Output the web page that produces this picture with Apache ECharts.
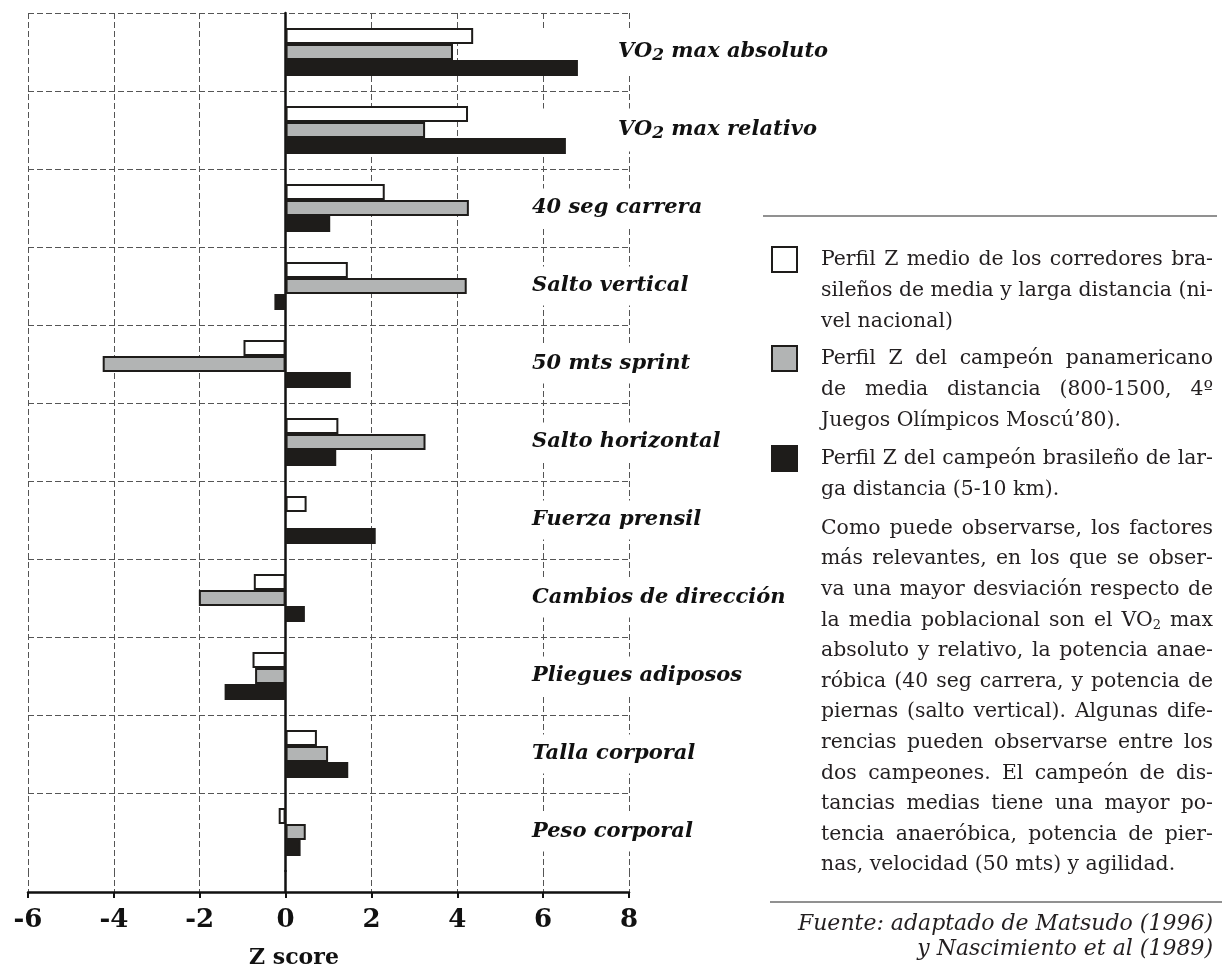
<!DOCTYPE html>
<html>
<head>
<meta charset="utf-8">
<script src="https://cdn.jsdelivr.net/npm/echarts@6/dist/echarts.min.js"></script>
<style>
  html, body { margin: 0; padding: 0; background: #fff; }
  #main { width: 1227px; height: 969px; }
</style>
</head>
<body>
<div id="main"></div>
<script>
// datos del gráfico, de arriba a abajo
var categories = ["VO2 max absoluto", "VO2 max relativo", "40 seg carrera", "Salto vertical",
  "50 mts sprint", "Salto horizontal", "Fuerza prensil", "Cambios de dirección",
  "Pliegues adiposos", "Talla corporal", "Peso corporal"];
var corredores = [4.37, 4.25, 2.31, 1.45, -0.98, 1.23, 0.49, -0.74, -0.77, 0.73, -0.16];
var panamericano = [3.9, 3.25, 4.27, 4.22, -4.26, 3.26, null, -2.02, -0.71, 0.99, 0.47];
var brasileno = [6.81, 6.53, 1.04, -0.26, 1.52, 1.18, 2.1, 0.45, -1.42, 1.46, 0.35];
var xTicks = [-6, -4, -2, 0, 2, 4, 6, 8];

// textos del panel derecho ("_2" = subíndice)
var leyenda1 = ["Perfil Z medio de los corredores bra-", "sileños de media y larga distancia (ni-", "vel nacional)"];
var leyenda2 = ["Perfil Z del campeón panamericano", "de media distancia (800-1500, 4º", "Juegos Olímpicos Moscú’80)."];
var leyenda3 = ["Perfil Z del campeón brasileño de lar-", "ga distancia (5-10 km)."];
var parrafo = [
  "Como puede observarse, los factores",
  "más relevantes, en los que se obser-",
  "va una mayor desviación respecto de",
  "la media poblacional son el VO_2 max",
  "absoluto y relativo, la potencia anae-",
  "róbica (40 seg carrera, y potencia de",
  "piernas (salto vertical). Algunas dife-",
  "rencias pueden observarse entre los",
  "dos campeones. El campeón de dis-",
  "tancias medias tiene una mayor po-",
  "tencia anaeróbica, potencia de pier-",
  "nas, velocidad (50 mts) y agilidad."
];
var fuente = "Fuente: adaptado de Matsudo (1996)\ny Nascimiento et al (1989)";

var colBlanco = "#ffffff", colGris = "#b2b4b4", colNegro = "#1e1c1a";
var serif = "DejaVu Serif";
var dash = { type: [6, 3], color: "#555", width: 1 };
var tamTexto = 20.4, tamSub = 13, colTexto = "#231f20";

var chart = echarts.init(document.getElementById("main"));

// el eje de categorías va de abajo a arriba: se invierten los arrays
function rev(a) { return a.slice().reverse(); }

function barSerie(name, data, color) {
  return {
    name: name,
    type: "bar",
    xAxisIndex: 0,
    yAxisIndex: 0,
    data: rev(data),
    barWidth: 16,
    barGap: "0%",
    itemStyle: { color: color, borderColor: colNegro, borderWidth: 2 }
  };
}

// medir texto para justificar las líneas
var ctx = document.createElement("canvas").getContext("2d");
function medir(txt, size) {
  ctx.font = size + "px '" + serif + "'";
  return ctx.measureText(txt).width;
}
function anchoPalabra(w) {
  if (w.indexOf("_2") >= 0) return medir(w.replace("_2", ""), tamTexto) + medir("2", tamSub);
  return medir(w, tamTexto);
}

// bloque de texto justificado, palabra a palabra
function bloque(lineas, x, y0, alto, ancho) {
  var els = [];
  lineas.forEach(function (linea, i) {
    var palabras = linea.split(" ");
    var anchos = palabras.map(anchoPalabra);
    var total = anchos.reduce(function (a, b) { return a + b; }, 0);
    var ultima = i === lineas.length - 1;
    var hueco = (ultima || palabras.length < 2) ? medir(" ", tamTexto) : (ancho - total) / (palabras.length - 1);
    var cx = x;
    palabras.forEach(function (p, j) {
      els.push({
        type: "text", x: cx, y: y0 + i * alto,
        style: {
          text: p.replace("_2", "{s|2}"),
          fontFamily: serif, fontSize: tamTexto, fill: colTexto, verticalAlign: "middle",
          rich: { s: { fontFamily: serif, fontSize: tamSub, fill: colTexto, verticalAlign: "bottom", padding: [10, 0, 0, 0] } }
        }
      });
      cx += anchos[j] + hueco;
    });
  });
  return els;
}

var graficos = [
  { type: "line", shape: { x1: 763, y1: 216, x2: 1217, y2: 216 }, style: { stroke: "#6d6d6d", lineWidth: 1.5 } },
  { type: "rect", shape: { x: 772, y: 247, width: 25, height: 25 }, style: { fill: colBlanco, stroke: colNegro, lineWidth: 2 } },
  { type: "rect", shape: { x: 772, y: 346, width: 25, height: 25 }, style: { fill: colGris, stroke: colNegro, lineWidth: 2 } },
  { type: "rect", shape: { x: 772, y: 446, width: 25, height: 25 }, style: { fill: colNegro, stroke: colNegro, lineWidth: 2 } },
  { type: "line", shape: { x1: 770, y1: 902, x2: 1222, y2: 902 }, style: { stroke: "#6d6d6d", lineWidth: 1.5 } },
  { type: "text", x: 1213, y: 912, style: { text: fuente, fontFamily: serif, fontStyle: "italic", fontSize: 22, fill: colTexto,
      lineHeight: 25, align: "right", verticalAlign: "top" } }
];
graficos = graficos
  .concat(bloque(leyenda1, 821, 260, 31, 392))
  .concat(bloque(leyenda2, 821, 359, 31, 392))
  .concat(bloque(leyenda3, 821, 459, 31, 392))
  .concat(bloque(parrafo, 821, 528.5, 30.6, 392));

var ejeX = { type: "value", min: -6, max: 8, interval: 2, splitLine: { show: true, lineStyle: dash } };

chart.setOption({
  animation: false,
  backgroundColor: "#fff",
  grid: [
    { left: 28, right: 598, top: 13, bottom: 98, containLabel: false, outerBoundsMode: "none" },
    { left: 28, right: 598, top: 871, bottom: 77, containLabel: false, outerBoundsMode: "none" }
  ],
  xAxis: [
    Object.assign({ gridIndex: 0, z: 0, axisLine: { show: false }, axisTick: { show: false }, axisLabel: { show: false } }, ejeX),
    Object.assign({
      gridIndex: 1, z: 0,
      axisLine: { show: true, onZero: false, lineStyle: { color: "#111", width: 2.5 } },
      axisTick: { show: true, length: 6, lineStyle: { color: "#111", width: 2 } },
      axisLabel: {
        margin: 15,
        fontFamily: serif, fontWeight: "bold", fontSize: 26, color: "#111",
        formatter: function (v) { return xTicks.indexOf(v) >= 0 ? String(v) : ""; }
      },
      name: "Z score",
      nameLocation: "middle",
      nameGap: 55,
      nameTextStyle: { fontFamily: serif, fontWeight: "bold", fontSize: 22, color: "#111", padding: [0, 69, 0, 0] }
    }, ejeX)
  ],
  yAxis: [
    {
      gridIndex: 0,
      type: "category",
      data: rev(categories),
      z: 1,
      axisLine: { show: true, onZero: true, lineStyle: { color: "#111", width: 2.5 } },
      axisTick: { show: false },
      splitLine: { show: true, lineStyle: dash, interval: function (i) { return i !== 0; } },
      axisLabel: {
        inside: true,
        margin: 498,
        backgroundColor: "#fff",
        padding: [9, 6, 9, 6],
        formatter: function (v) {
          if (v.indexOf("VO2") === 0) return "{gap|}{b|VO}{sub|2}{b|" + v.slice(3) + "}";
          return "{b|" + v + "}";
        },
        rich: {
          b: { fontFamily: serif, fontWeight: "bold", fontStyle: "italic", fontSize: 21, color: "#111" },
          sub: { fontFamily: serif, fontWeight: "bold", fontStyle: "italic", fontSize: 17, color: "#111",
            verticalAlign: "bottom", padding: [8, 0, 0, 0] },
          gap: { width: 86 }
        }
      }
    },
    {
      gridIndex: 1,
      type: "category",
      data: [""],
      axisLine: { show: true, onZero: true, lineStyle: { color: "#111", width: 2.5 } },
      axisTick: { show: false },
      axisLabel: { show: false },
      splitLine: { show: false }
    }
  ],
  series: [
    barSerie("corredores", corredores, colBlanco),
    barSerie("panamericano", panamericano, colGris),
    barSerie("brasileno", brasileno, colNegro)
  ],
  graphic: graficos
});
</script>
</body>
</html>
